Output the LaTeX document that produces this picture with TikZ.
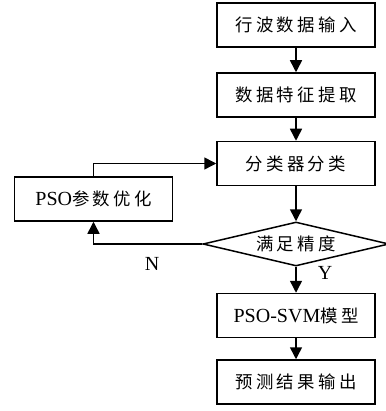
\documentclass[tikz,border=0pt]{standalone}
\usepackage{fontspec}
\setmainfont{Liberation Serif}
\newfontfamily\cjk[Scale=0.87,LetterSpace=19]{Noto Sans CJK SC}
\usetikzlibrary{arrows.meta,shapes.geometric}
\begin{document}
\begin{tikzpicture}[x=1pt,y=-1pt,
  stepbox/.style={draw, line width=1.5pt, minimum width=158pt, minimum height=44pt,
    inner sep=0pt, font=\fontsize{20}{24}\selectfont},
  testbox/.style={draw, diamond, aspect=4.2, line width=1.5pt, minimum width=186pt,
    minimum height=44pt, inner sep=0pt, font=\fontsize{20}{24}\selectfont},
  flow/.style={line width=1.5pt, -{Triangle[length=12pt,width=12pt]}},
  lbl/.style={font=\fontsize{20}{24}\selectfont, inner sep=0pt}]
  \useasboundingbox (0,0) rectangle (385,411);

  \node[stepbox] (input)   at (296,25)    {\cjk 行波数据输入\hspace{-3.3pt}};
  \node[stepbox] (feature) at (296,95)    {\cjk 数据特征提取\hspace{-3.3pt}};
  \node[stepbox] (classify) at (296,163.5) {\cjk 分类器分类\hspace{-3.3pt}};
  \node[stepbox] (pso)     at (93.5,199)  {PSO{\cjk 参数优化\hspace{-3.3pt}}};
  \node[testbox] (check)   at (296,244)   {\cjk 满足精度\hspace{-3.3pt}};
  \node[stepbox] (model)   at (296,315.5) {PSO-SVM{\cjk 模型\hspace{-3.3pt}}};
  \node[stepbox] (output)  at (296,382)   {\cjk 预测结果输出\hspace{-3.3pt}};

  \draw[flow] (input) -- (feature);
  \draw[flow] (feature) -- (classify);
  \draw[flow] (classify) -- (check);
  \draw[flow] (check) -- (model);
  \draw[flow] (model) -- (output);
  \draw[flow] (pso.north) |- (classify.west);
  \draw[flow] (check.west) -| (pso.south);

  \node[lbl] (no)  at (152,264) {N};
  \node[lbl] (yes) at (325,273) {Y};
\end{tikzpicture}
\end{document}
